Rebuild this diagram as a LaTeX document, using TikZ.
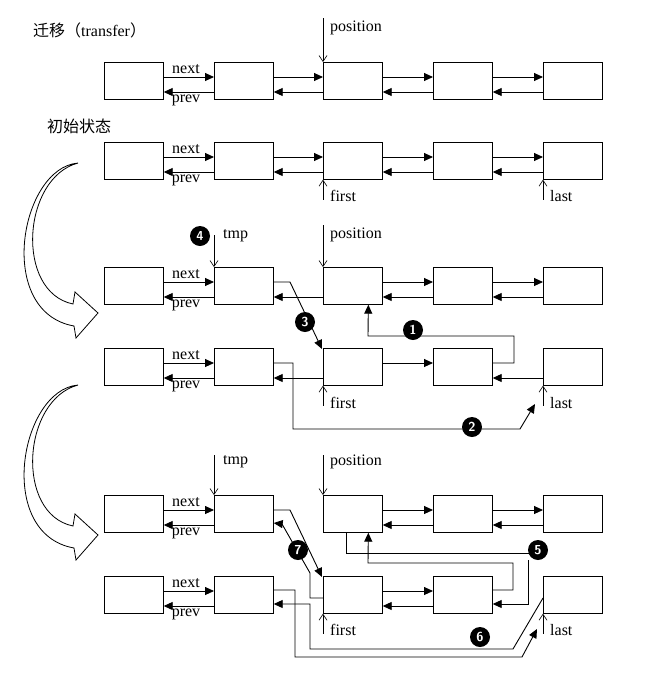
\documentclass[tikz,border=0pt]{standalone}
\usepackage{fontspec}
\setmainfont{Liberation Serif}
\newfontfamily\cjk{Noto Sans CJK SC}
\usetikzlibrary{arrows.meta}
\begin{document}
\begin{tikzpicture}[x=1pt,y=-1pt,
  box/.style={draw,line width=0.7pt,minimum width=59pt,minimum height=37pt,inner sep=0,anchor=north west},
  link/.style={line width=0.9pt,-{Triangle[length=9pt,width=8pt]}},
  ptr/.style={line width=0.6pt,-{Straight Barb[length=6pt,width=8pt]}},
  lbl/.style={font=\fontsize{16}{18}\selectfont,inner sep=1pt},
  num/.style={circle,fill=black,text=white,inner sep=0,minimum size=20pt,font=\sffamily\bfseries\fontsize{13}{14}\selectfont},
  big/.style={draw,line width=0.8pt,fill=white}]
\useasboundingbox (0,0) rectangle (666,681);
\newcommand\nx[3]{\draw[link] ([yshift=-15pt]r#1c#2.north east) -- ([yshift=-15pt]r#1c#3.north west);}
\newcommand\pv[3]{\draw[link] ([yshift=-30pt]r#1c#3.north west) -- ([yshift=-30pt]r#1c#2.north east);}
\foreach \r/\y in {1/62,2/142,3/267,4/348,5/495,6/576}{
  \foreach \c/\x in {1/104,2/214,3/323,4/433,5/543}{
    \node[box] (r\r c\c) at (\x,\y) {};
  }
  \node[lbl,anchor=south] (nx\r) at (186,\y+13) {next};
  \node[lbl,anchor=north] (pv\r) at (186,\y+32) {prev};
}
% titles
\node[lbl,anchor=west,font=\fontsize{16}{18}\selectfont] (t1) at (32,30) {{\cjk 迁移（}transfer{\cjk ）}};
\node[lbl,anchor=west,font=\fontsize{16}{18}\selectfont] (t2) at (46,126) {\cjk 初始状态};
% row 1,2
\foreach \r in {1,2}{\nx{\r}{1}{2}\pv{\r}{1}{2}\nx{\r}{2}{3}\pv{\r}{2}{3}\nx{\r}{3}{4}\pv{\r}{3}{4}\nx{\r}{4}{5}\pv{\r}{4}{5}}
\draw[ptr] ([yshift=44pt]r1c3.north west) -- (r1c3.north west);
\node[lbl,anchor=west] (p1) at (329,28) {position};
\draw[ptr] ([yshift=-20pt]r2c3.south west) -- (r2c3.south west);
\node[lbl,anchor=west] (f2) at (329,196) {first};
\draw[ptr] ([yshift=-20pt]r2c5.south west) -- (r2c5.south west);
\node[lbl,anchor=west] (l2) at (549,196) {last};
% row 3,4
\nx{3}{1}{2}\pv{3}{1}{2}\pv{3}{2}{3}\nx{3}{3}{4}\pv{3}{3}{4}\nx{3}{4}{5}\pv{3}{4}{5}
\nx{4}{1}{2}\pv{4}{1}{2}\pv{4}{2}{3}\nx{4}{3}{4}\pv{4}{4}{5}
\draw[ptr] ([yshift=32pt]r3c2.north west) -- (r3c2.north west);
\node[num] (n4) at (200,236) {4};
\node[lbl,anchor=west] (tmp3) at (222,236) {tmp};
\draw[ptr] ([yshift=42pt]r3c3.north west) -- (r3c3.north west);
\node[lbl,anchor=west] (p3) at (329,235) {position};
\draw[link] ([yshift=-15pt]r3c2.north east) -- (290,282) -- ([xshift=-1pt,yshift=-1pt]r4c3.north west);
\node[num] (n3) at (305,322) {3};
\draw[link] ([yshift=-15pt]r4c4.north east) -- (514,363) -- (514,336) -- (368,336) -- ([xshift=15.5pt]r3c3.south);
\node[num] (n1) at (413,330) {1};
\draw[link] ([yshift=-15pt]r4c2.north east) -- (293,363) -- (293,429) -- (520,429) -- (535,404);
\node[num] (n2) at (472,427) {2};
\draw[ptr] ([yshift=-20pt]r4c3.south west) -- (r4c3.south west);
\node[lbl,anchor=west] (f4) at (329,403) {first};
\draw[ptr] ([yshift=-20pt]r4c5.south west) -- (r4c5.south west);
\node[lbl,anchor=west] (l4) at (549,403) {last};
% row 5,6
\nx{5}{1}{2}\pv{5}{1}{2}\nx{5}{3}{4}\pv{5}{3}{4}\nx{5}{4}{5}\pv{5}{4}{5}
\nx{6}{1}{2}\pv{6}{1}{2}\nx{6}{3}{4}\pv{6}{3}{4}
\draw[ptr] ([yshift=40pt]r5c2.north west) -- (r5c2.north west);
\node[lbl,anchor=west] (tmp5) at (222,462) {tmp};
\draw[ptr] ([yshift=40pt]r5c3.north west) -- (r5c3.north west);
\node[lbl,anchor=west] (p5) at (329,462) {position};
\draw[link] ([yshift=-15pt]r5c2.north east) -- (290,510) -- ([xshift=-1pt,yshift=-1pt]r6c3.north west);
\draw[link] ([yshift=-22pt]r6c3.north west) -- (310,598) -- (310,573) -- (282,524) -- ([yshift=-28pt]r5c2.north east);
\node[num] (n7) at (298,550) {7};
\draw (r5c3.south west) ++(23,0) -- (346,553) -- (530,553);
\node[num] (n5) at (538,550) {5};
\draw[link] (528,560) -- (528,604) -- ([yshift=-28pt]r6c4.north east);
\draw[link] ([yshift=-14pt]r6c4.north east) -- (513,590) -- (513,563) -- (368,563) -- ([xshift=15.5pt]r5c3.south);
\draw[link] ([yshift=-14pt]r6c2.north east) -- (295,590) -- (295,657) -- (522,657) -- (537,629);
\draw[link] ([yshift=-22pt]r6c5.north west) -- (513,649) -- (310,649) -- (310,604) -- ([yshift=-28pt]r6c2.north east);
\node[num] (n6) at (480,637) {6};
\draw[ptr] ([yshift=-20pt]r6c3.south west) -- (r6c3.south west);
\node[lbl,anchor=west] (f6) at (329,630) {first};
\draw[ptr] ([yshift=-20pt]r6c5.south west) -- (r6c5.south west);
\node[lbl,anchor=west] (l6) at (549,630) {last};
% big curved arrows
\foreach \dy in {0,222}{
\draw[big,shift={(0,\dy)}] (78,163) .. controls (20,168) and (-5,312) .. (74,326) -- (76,338) -- (98,313) -- (75,292) -- (73,304) .. controls (15,292) and (22,178) .. (78,163) -- cycle;
}
\end{tikzpicture}
\end{document}
